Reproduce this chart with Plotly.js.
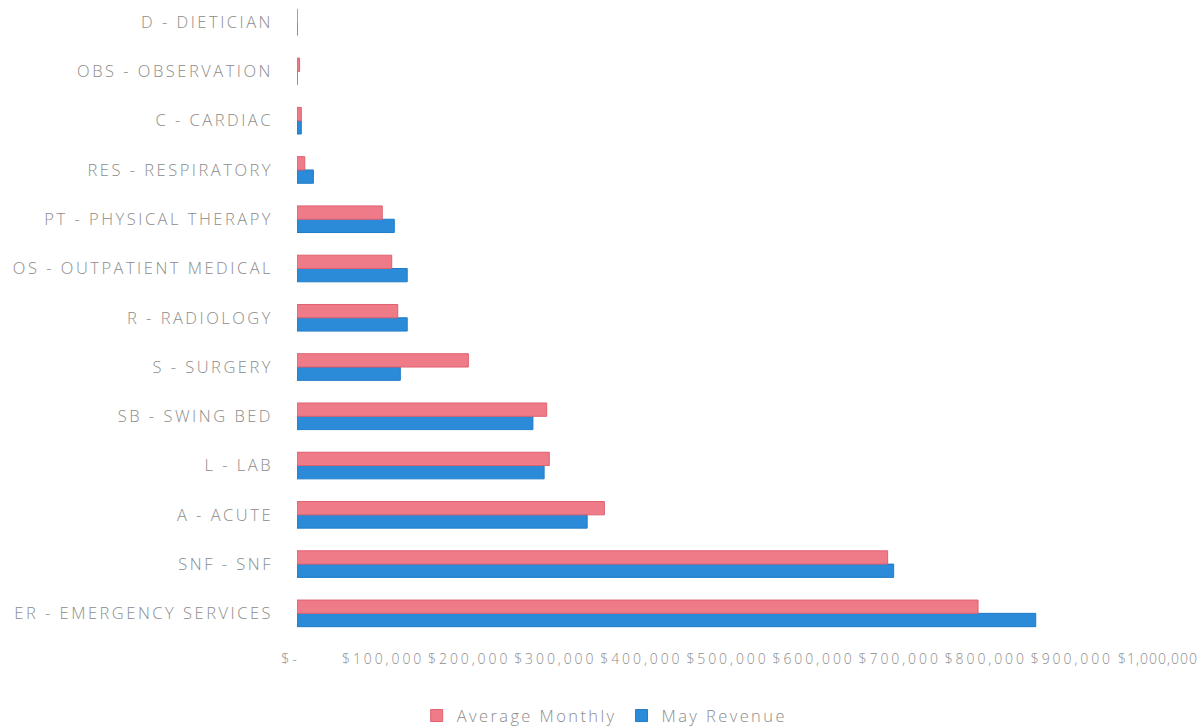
<!DOCTYPE html>
<html>
<head>
<meta charset="utf-8">
<script src="https://cdn.plot.ly/plotly-3.0.1.min.js"></script>
<style>
  html, body { margin: 0; padding: 0; background: #ffffff; }
  #chart { width: 1203px; height: 728px; }
  /* wide, airy lettering for the axis and legend labels */
  #chart .ytick text { letter-spacing: 2.5px; }
  #chart .xtick text { letter-spacing: 2.9px; }
  #chart .xtick:last-of-type text { letter-spacing: 1px; }
  .legendtext { letter-spacing: 2.4px; }
</style>
</head>
<body>
<div id="chart"></div>
<script>
// Revenue by department, bottom to top
const departments = [
  "ER - EMERGENCY SERVICES",
  "SNF - SNF",
  "A - ACUTE",
  "L - LAB",
  "SB - SWING BED",
  "S - SURGERY",
  "R - RADIOLOGY",
  "OS - OUTPATIENT MEDICAL",
  "PT - PHYSICAL THERAPY",
  "RES - RESPIRATORY",
  "C - CARDIAC",
  "OBS - OBSERVATION",
  "D - DIETICIAN"
];
const averageMonthly = [791000, 686000, 357000, 293000, 290000, 199000, 117000, 110000, 99000, 9000, 5000, 3000, 0];
const mayRevenue     = [858000, 693000, 337000, 287000, 274000, 120000, 128000, 128000, 113000, 19000, 5000, 0, 0];

const tickValues = [0, 100000, 200000, 300000, 400000, 500000, 600000, 700000, 800000, 900000, 1000000];
const tickLabels = ["$-  ", "$100,000", "$200,000", "$300,000", "$400,000", "$500,000",
                    "$600,000", "$700,000", "$800,000", "$900,000", "$1,000,000"];

const textGrey = "#8c8c8c";
const fontFamily = "'Open Sans', 'Noto Sans', sans-serif";

// May Revenue is listed first so that it sits below Average Monthly in each group
const traces = [
  {
    type: "bar",
    orientation: "h",
    name: "May Revenue",
    y: departments,
    x: mayRevenue,
    marker: { color: "#2b8bd8", line: { color: "#1f7cc8", width: 1 } },
    hoverinfo: "x+name"
  },
  {
    type: "bar",
    orientation: "h",
    name: "Average Monthly",
    y: departments,
    x: averageMonthly,
    marker: { color: "#ef7b89", line: { color: "#e0606f", width: 1 } },
    hoverinfo: "x+name"
  }
];

const layout = {
  width: 1203,
  height: 728,
  margin: { l: 297, r: 45, t: 0, b: 90, autoexpand: false },
  paper_bgcolor: "#ffffff",
  plot_bgcolor: "#ffffff",
  barmode: "group",
  bargap: 0.46,
  bargroupgap: 0,
  font: { family: fontFamily, color: textGrey },
  xaxis: {
    range: [0, 1000000],
    tickvals: tickValues,
    ticktext: tickLabels,
    tickangle: 0,
    automargin: false,
    tickfont: { size: 14, color: textGrey, family: fontFamily, weight: 300 },
    showgrid: false,
    zeroline: false,
    showline: false,
    ticks: "",
    ticklabelstandoff: 11,
    fixedrange: true
  },
  yaxis: {
    type: "category",
    range: [-0.5, 12.45],
    automargin: false,
    tickfont: { size: 16.5, color: textGrey, family: fontFamily, weight: 300 },
    showgrid: false,
    zeroline: false,
    showline: false,
    ticks: "",
    ticklabelstandoff: 23,
    fixedrange: true
  },
  legend: {
    orientation: "h",
    traceorder: "reversed",
    xref: "paper",
    x: 0.139,
    xanchor: "left",
    y: -0.122,
    yanchor: "middle",
    font: { size: 16.5, color: textGrey, family: fontFamily, weight: 300 },
    itemwidth: 30
  },
  showlegend: true
};

Plotly.newPlot("chart", traces, layout, { displayModeBar: false, staticPlot: true });
</script>
</body>
</html>
